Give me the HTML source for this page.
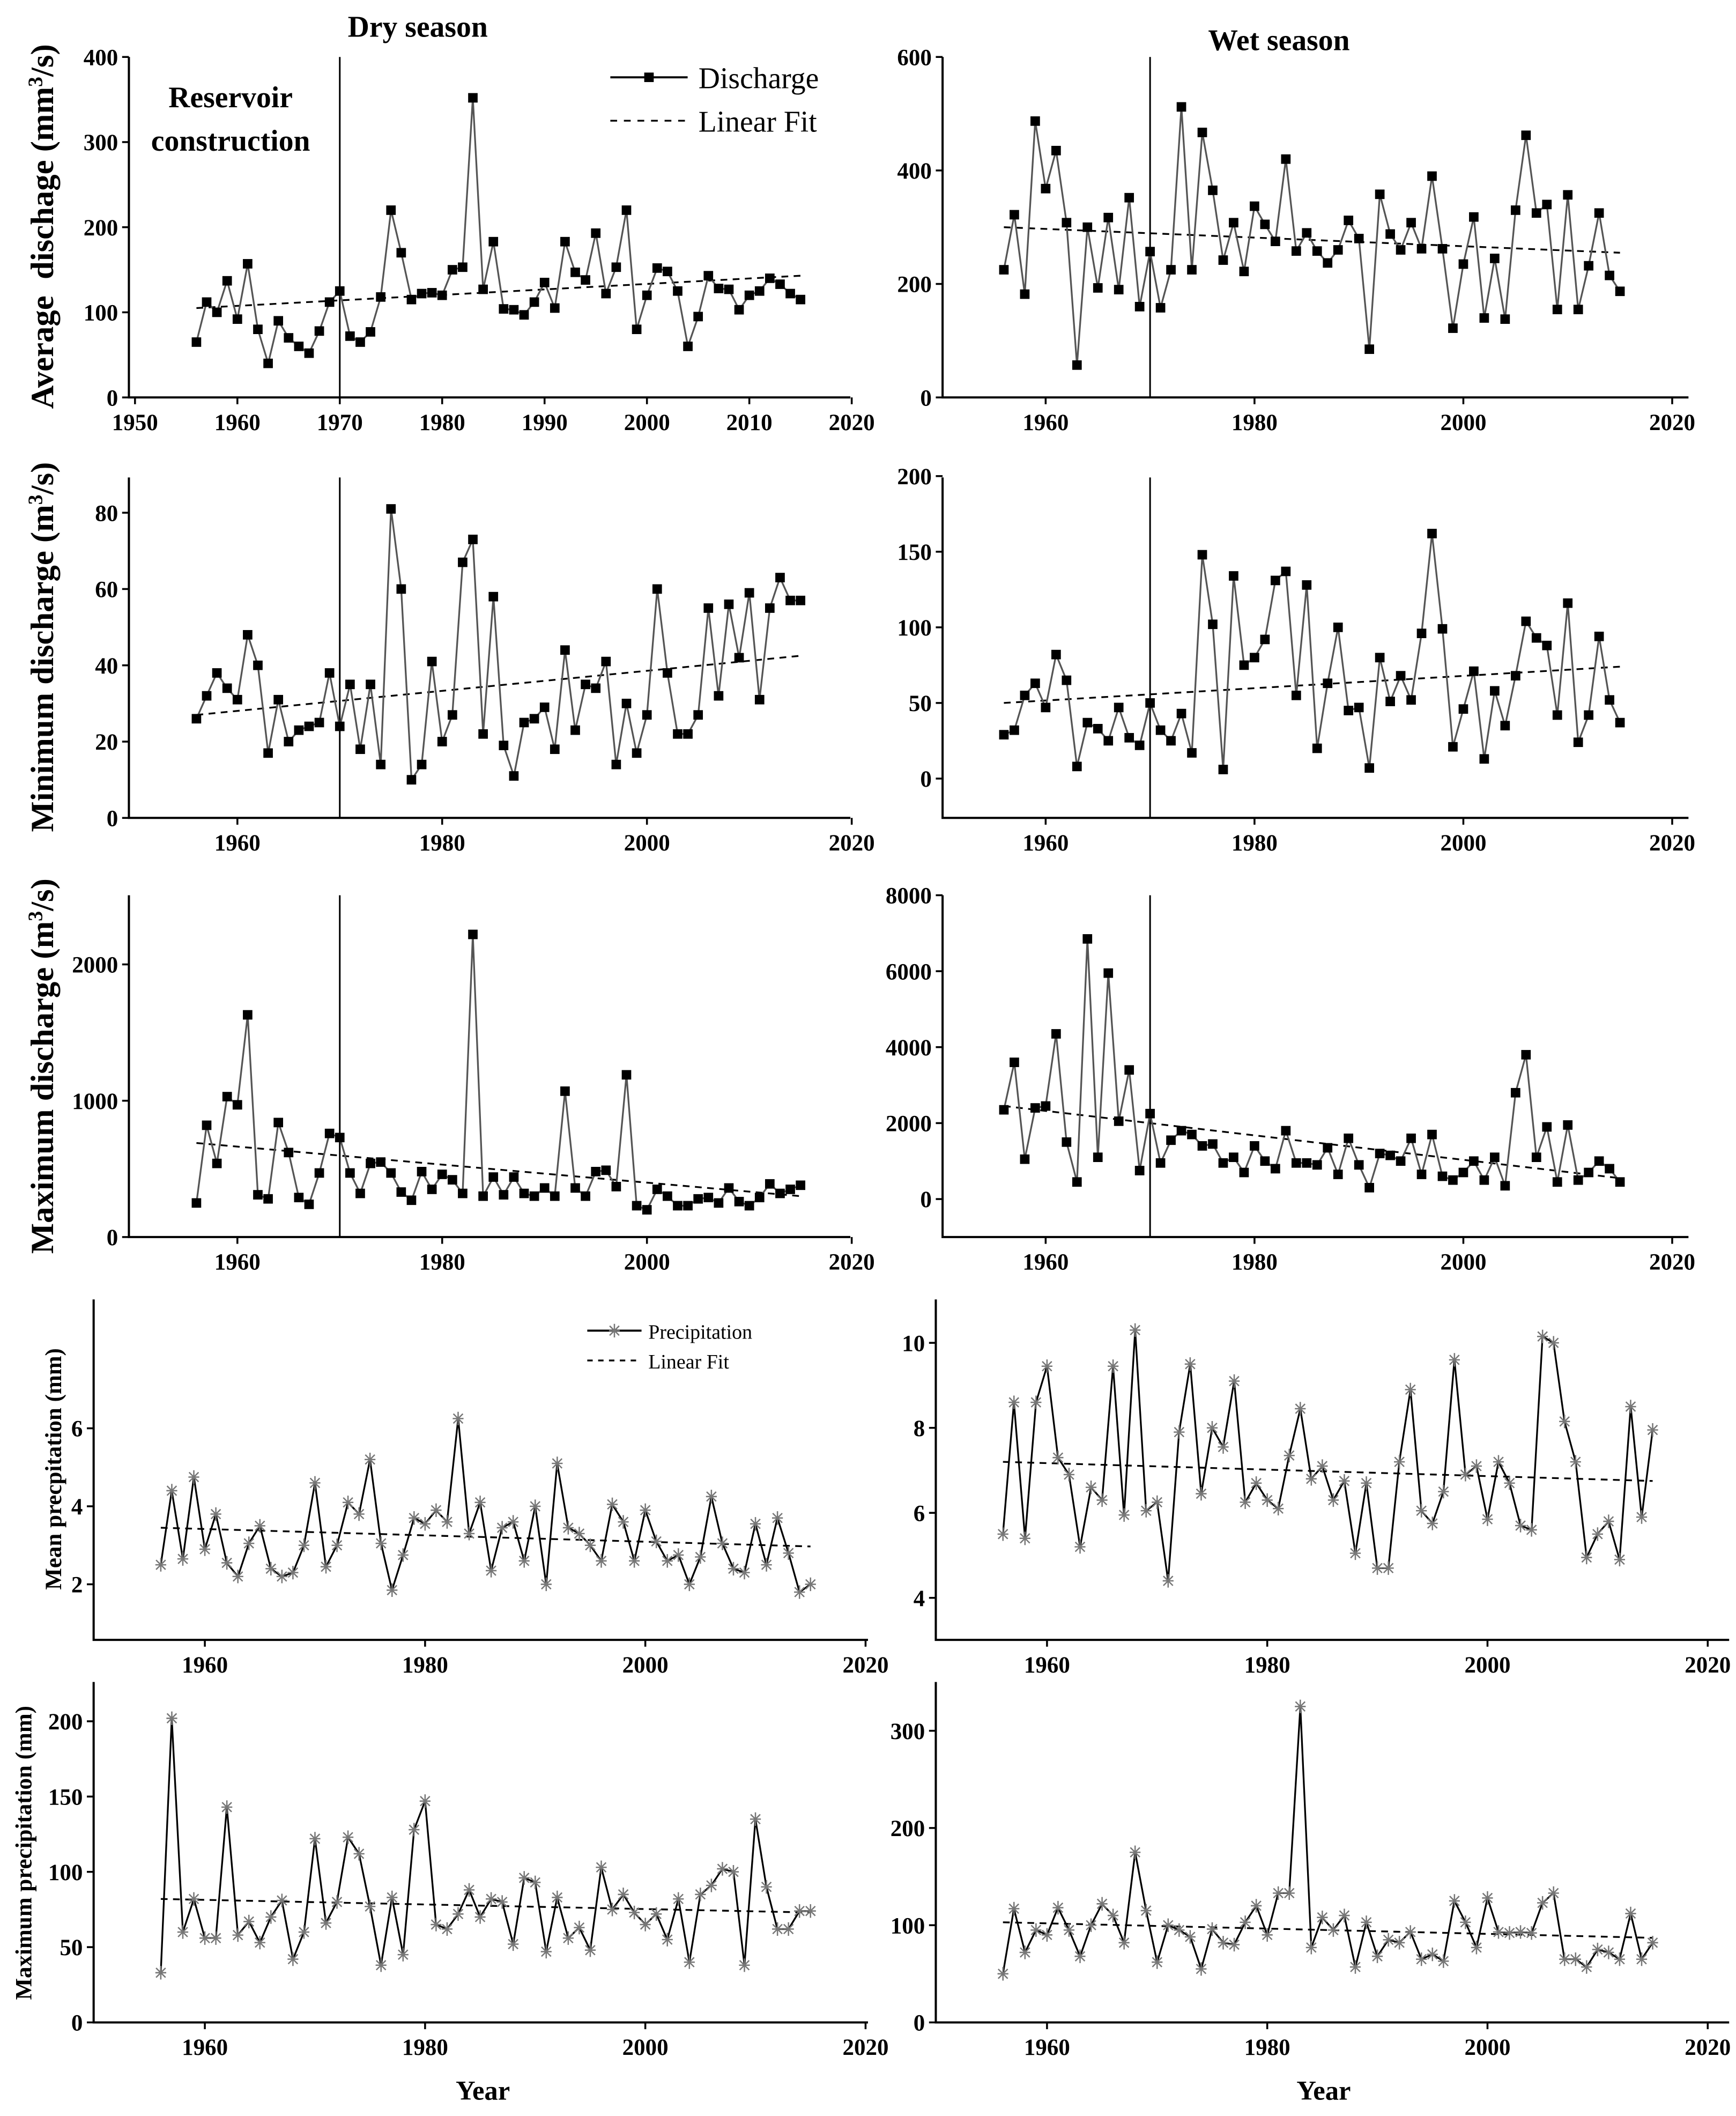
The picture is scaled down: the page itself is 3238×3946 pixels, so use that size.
<!DOCTYPE html>
<html><head><meta charset="utf-8"><style>
html,body{margin:0;padding:0;background:#fff}
svg{display:block}
text{font-family:"Liberation Serif",serif;fill:#000}
</style></head><body>
<svg id="chart" width="3238" height="3946" viewBox="0 0 1280 1560" xmlns="http://www.w3.org/2000/svg">
<rect width="1280" height="1560" fill="#fff"/>
<text x="308" y="27" font-size="22" font-weight="bold" text-anchor="middle">Dry season</text>
<text x="943" y="37" font-size="22" font-weight="bold" text-anchor="middle">Wet season</text>
<text x="170" y="79" font-size="22" font-weight="bold" text-anchor="middle">Reservoir</text>
<text x="170" y="111" font-size="22" font-weight="bold" text-anchor="middle">construction</text>
<text x="356" y="1548" font-size="20" font-weight="bold" text-anchor="middle">Year</text>
<text x="976" y="1548" font-size="20" font-weight="bold" text-anchor="middle">Year</text>
<g id="panels"></g>
</svg>
<script>
const years = [];
for (let y = 1956; y <= 2015; y++) years.push(y);
const dryAvg = [65,112,100,137,92,157,80,40,90,70,60,52,78,112,125,72,65,77,118,220,170,115,122,123,120,150,153,352,127,183,104,103,97,112,135,105,183,147,138,193,122,153,220,80,120,152,148,125,60,95,143,128,127,103,120,125,140,133,122,115];
const wetAvg = [225,322,182,487,368,435,308,57,300,193,317,190,352,160,257,158,225,512,225,467,365,242,308,222,337,305,275,420,258,290,258,237,260,312,280,85,358,288,260,308,262,390,262,122,235,318,140,245,138,330,462,325,340,155,357,155,232,325,215,187];
const dryMin = [26,32,38,34,31,48,40,17,31,20,23,24,25,38,24,35,18,35,14,81,60,10,14,41,20,27,67,73,22,58,19,11,25,26,29,18,44,23,35,34,41,14,30,17,27,60,38,22,22,27,55,32,56,42,59,31,55,63,57,57];
const wetMin = [29,32,55,63,47,82,65,8,37,33,25,47,27,22,50,32,25,43,17,148,102,6,134,75,80,92,131,137,55,128,20,63,100,45,47,7,80,51,68,52,96,162,99,21,46,71,13,58,35,68,104,93,88,42,116,24,42,94,52,37];
const dryMax = [250,820,540,1030,970,1630,310,280,840,620,290,240,470,760,730,470,320,540,550,470,330,270,480,350,460,420,320,2220,300,440,310,440,320,300,360,300,1070,360,300,480,490,370,1190,230,200,350,300,230,230,280,290,250,360,260,230,290,390,320,350,380];
const wetMax = [2350,3600,1050,2400,2450,4350,1500,450,6850,1100,5950,2050,3400,750,2250,950,1550,1800,1700,1400,1450,950,1100,700,1400,1000,800,1800,950,950,900,1350,650,1600,900,300,1200,1150,1000,1600,650,1700,600,500,700,1000,500,1100,350,2800,3800,1100,1900,450,1950,500,700,1000,800,450];
const dryMeanP = [2.5,4.4,2.65,4.75,2.9,3.8,2.55,2.2,3.05,3.5,2.4,2.2,2.3,3.0,4.6,2.45,3.0,4.1,3.8,5.2,3.05,1.85,2.75,3.7,3.55,3.9,3.6,6.25,3.3,4.1,2.35,3.45,3.6,2.6,4.0,2.0,5.1,3.45,3.3,3.0,2.6,4.05,3.6,2.6,3.9,3.1,2.6,2.75,2.0,2.7,4.25,3.05,2.4,2.3,3.55,2.5,3.7,2.8,1.8,2.0];
const wetMeanP = [5.5,8.6,5.4,8.6,9.45,7.3,6.9,5.2,6.6,6.3,9.45,5.95,10.3,6.05,6.25,4.4,7.9,9.5,6.45,8.0,7.55,9.1,6.25,6.7,6.3,6.1,7.35,8.45,6.8,7.1,6.3,6.75,5.05,6.7,4.7,4.7,7.2,8.9,6.05,5.75,6.5,9.6,6.9,7.1,5.85,7.2,6.7,5.7,5.6,10.15,10.0,8.15,7.2,4.95,5.5,5.8,4.9,8.5,5.9,7.95];
const dryMaxP = [33,202,60,82,56,56,143,58,67,53,70,81,42,60,122,66,80,123,112,77,38,83,45,128,147,65,62,72,88,70,82,80,52,96,93,47,83,56,63,48,103,75,85,73,65,72,55,82,40,85,91,102,100,38,135,90,62,62,74,74];
const wetMaxP = [50,117,72,95,90,118,95,68,100,122,110,82,175,115,62,100,95,88,55,96,82,80,103,120,90,133,133,325,77,108,95,110,57,103,68,85,82,93,65,70,63,125,103,77,128,93,92,93,92,123,133,65,65,57,75,72,65,112,65,82];
const fitDryAvg = [105,143], fitWetAvg = [300,255], fitDryMin = [27,42.5], fitWetMin = [50,74];
const fitDryMax = [690,300], fitWetMax = [2450,550], fitDryMeanP = [3.45,2.97], fitWetMeanP = [7.2,6.75];
const fitDryMaxP = [82,73], fitWetMaxP = [103,87];
const xTicks = [1950,1960,1970,1980,1990,2000,2010,2020];
const xTicksB = [1960,1980,2000,2020];

const NS = 'http://www.w3.org/2000/svg';
const root = document.getElementById('panels');
function mk(tag, attrs, parent) {
  const e = document.createElementNS(NS, tag);
  for (const k in attrs) e.setAttribute(k, attrs[k]);
  (parent || root).appendChild(e);
  return e;
}
function panel(p) {
  const g = mk('g', {});
  
  
  const X = y => p.x0 + (y - 1960) * p.pxYr;
  const Y = v => p.yp0 + (v - p.yv0) * (p.yp1 - p.yp0) / (p.yv1 - p.yv0);
  const ax = mk('path', {d:`M${p.left},${p.top} V${p.bottom} H${p.right}`, fill:'none', stroke:'#000', 'stroke-width':1.6}, g);
  
  
  p.xt.forEach(t => {
    const xx = X(t);
    mk('line', {x1:xx, x2:xx, y1:p.bottom, y2:p.bottom+5, stroke:'#000','stroke-width':1.4}, g);
    if (p.xl.includes(t)) {
      const tx = mk('text', {x:xx, y:p.bottom+24, 'font-size':17, 'text-anchor':'middle', 'font-weight':'bold'}, g);
      tx.textContent = t;
      
      
    }
  });
  p.yt.forEach(t => {
    const yy = Y(t);
    mk('line', {x1:p.left-5, x2:p.left, y1:yy, y2:yy, stroke:'#000','stroke-width':1.4}, g);
    const tx = mk('text', {x:p.left-8, y:yy+6, 'font-size':17, 'text-anchor':'end', 'font-weight':'bold'}, g);
    tx.textContent = t;
    
    
  });
  if (p.vline) {
    const v = mk('line', {x1:X(1970), x2:X(1970), y1:p.top, y2:p.bottom, stroke:'#000','stroke-width':1.2}, g);
    
    
  }
  const f = mk('line', {x1:X(1956), y1:Y(p.fit[0]), x2:X(2015), y2:Y(p.fit[1]), stroke:'#000','stroke-width':1.3,'stroke-dasharray':'5,4'}, g);
  
  
  const d = p.data.map((v,i) => (i?'L':'M') + X(years[i]).toFixed(1) + ',' + Y(v).toFixed(1)).join(' ');
  const s = mk('path', {d, fill:'none', stroke:p.star?'#000':'#555', 'stroke-width':1.3}, g);
  
  
  p.data.forEach((v,i) => {
    const cx = X(years[i]), cy = Y(v);
    let m;
    if (p.star) {
      m = mk('path', {d:`M${cx-4},${cy}H${cx+4}M${cx},${cy-5}V${cy+5}M${cx-3.5},${cy-3.5}L${cx+3.5},${cy+3.5}M${cx-3.5},${cy+3.5}L${cx+3.5},${cy-3.5}`, stroke:'#777','stroke-width':1, fill:'none'}, g);
    } else {
      m = mk('rect', {x:cx-3.5, y:cy-3.5, width:7, height:7, fill:'#000'}, g);
    }
    
    
  });
  if (p.ylabel) {
    const t = mk('text', {transform:`translate(${p.ylabel[1]},${p.ylabel[2]}) rotate(-90)`, 'font-size':p.ylabel[3], 'font-weight':'bold', 'text-anchor':'middle'}, g);
    t.innerHTML = p.ylabel[0];
    
    
  }
}
const L = {x0:175, pxYr:7.55, left:95, right:627};
const R = {x0:771, pxYr:7.7, left:695, right:1245};
const LB = {x0:151, pxYr:8.12, left:69, right:640};
const RB = {x0:772, pxYr:8.12, left:690, right:1275};
panel(Object.assign({}, L, {name:'dry-average-discharge', top:42, bottom:293, yv0:0, yp0:293, yv1:400, yp1:42, yt:[0,100,200,300,400], xt:xTicks, xl:xTicks, data:dryAvg, fit:fitDryAvg, vline:true, ylabel:['Average&#160;&#160;dischage (mm<tspan dy="-8" font-size="15">3</tspan><tspan dy="8">/s)</tspan>',39,167,24]}));
panel(Object.assign({}, R, {name:'wet-average-discharge', top:42, bottom:293, yv0:0, yp0:293, yv1:600, yp1:42, yt:[0,200,400,600], xt:xTicksB, xl:xTicksB, data:wetAvg, fit:fitWetAvg, vline:true}));
panel(Object.assign({}, L, {name:'dry-minimum-discharge', top:352, bottom:603, yv0:0, yp0:603, yv1:80, yp1:378, yt:[0,20,40,60,80], xt:xTicksB, xl:xTicksB, data:dryMin, fit:fitDryMin, vline:true, ylabel:['Minimum discharge (m<tspan dy="-8" font-size="15">3</tspan><tspan dy="8">/s)</tspan>',39,477,24]}));
panel(Object.assign({}, R, {name:'wet-minimum-discharge', top:352, bottom:603, yv0:0, yp0:574, yv1:200, yp1:351, yt:[0,50,100,150,200], xt:xTicksB, xl:xTicksB, data:wetMin, fit:fitWetMin, vline:true}));
panel(Object.assign({}, L, {name:'dry-maximum-discharge', top:660, bottom:912, yv0:0, yp0:912, yv1:2000, yp1:711, yt:[0,1000,2000], xt:xTicksB, xl:xTicksB, data:dryMax, fit:fitDryMax, vline:true, ylabel:['Maximum discharge (m<tspan dy="-8" font-size="15">3</tspan><tspan dy="8">/s)</tspan>',39,786,24]}));
panel(Object.assign({}, R, {name:'wet-maximum-discharge', top:660, bottom:912, yv0:0, yp0:884, yv1:8000, yp1:660, yt:[0,2000,4000,6000,8000], xt:xTicksB, xl:xTicksB, data:wetMax, fit:fitWetMax, vline:true}));
panel(Object.assign({}, LB, {name:'dry-mean-precipitation', star:true, top:958, bottom:1209, yv0:2, yp0:1168, yv1:6, yp1:1053, yt:[2,4,6], xt:xTicksB, xl:xTicksB, data:dryMeanP, fit:fitDryMeanP, ylabel:['Mean precpitation (mm)',45,1083,17]}));
panel(Object.assign({}, RB, {name:'wet-mean-precipitation', star:true, top:958, bottom:1209, yv0:4, yp0:1178, yv1:10, yp1:990, yt:[4,6,8,10], xt:xTicksB, xl:xTicksB, data:wetMeanP, fit:fitWetMeanP}));
panel(Object.assign({}, LB, {name:'dry-maximum-precipitation', star:true, top:1240, bottom:1491, yv0:0, yp0:1491, yv1:200, yp1:1269, yt:[0,50,100,150,200], xt:xTicksB, xl:xTicksB, data:dryMaxP, fit:fitDryMaxP, ylabel:['Maximum precipitation (mm)',23,1366,17]}));
panel(Object.assign({}, RB, {name:'wet-maximum-precipitation', star:true, top:1240, bottom:1491, yv0:0, yp0:1491, yv1:300, yp1:1276, yt:[0,100,200,300], xt:xTicksB, xl:xTicksB, data:wetMaxP, fit:fitWetMaxP}));

const lg1 = mk('g', {});


mk('line', {x1:450,x2:507,y1:57,y2:57,stroke:'#000','stroke-width':1.5}, lg1);
mk('rect', {x:475,y:53.5,width:7,height:7,fill:'#000'}, lg1);
let t = mk('text', {x:515,y:65,'font-size':22}, lg1); t.textContent='Discharge';
mk('line', {x1:450,x2:507,y1:89,y2:89,stroke:'#000','stroke-width':1.3,'stroke-dasharray':'5,5'}, lg1);
t = mk('text', {x:515,y:97,'font-size':22}, lg1); t.textContent='Linear Fit';
const lg2 = mk('g', {});


mk('line', {x1:433,x2:473,y1:981,y2:981,stroke:'#000','stroke-width':1.5}, lg2);
mk('path', {d:'M449,981H457M453,976V986M449.5,977.5L456.5,984.5M449.5,984.5L456.5,977.5',stroke:'#777','stroke-width':1,fill:'none'}, lg2);
t = mk('text', {x:478,y:987,'font-size':15}, lg2); t.textContent='Precipitation';
mk('line', {x1:433,x2:473,y1:1003,y2:1003,stroke:'#000','stroke-width':1.3,'stroke-dasharray':'4,4'}, lg2);
t = mk('text', {x:478,y:1009,'font-size':15}, lg2); t.textContent='Linear Fit';
</script>
</body></html>
